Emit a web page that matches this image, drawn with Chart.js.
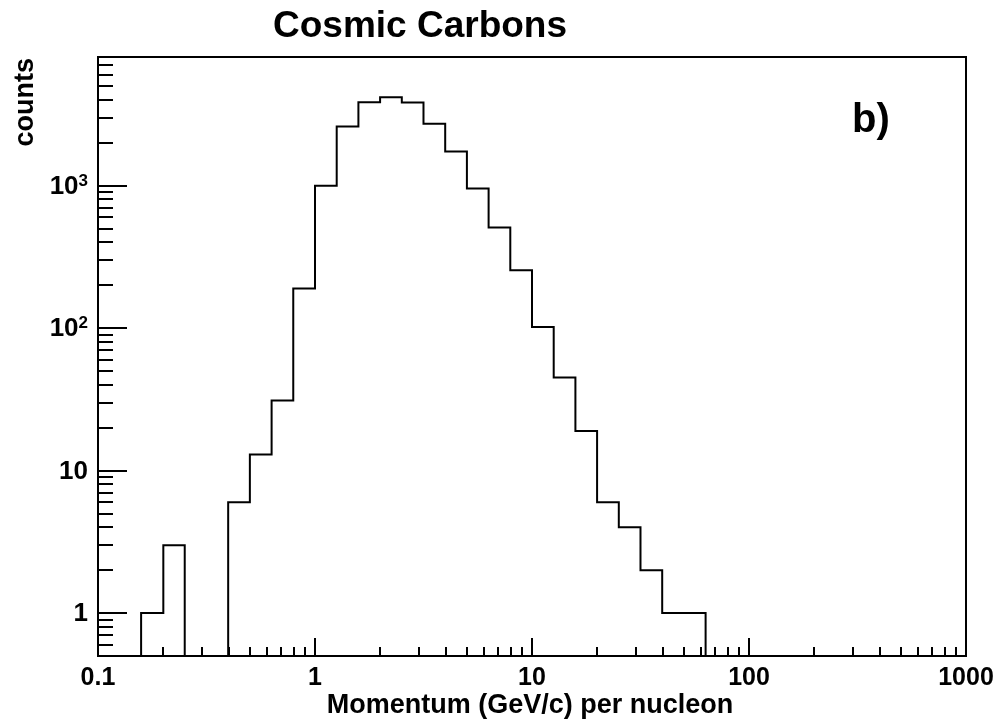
<!DOCTYPE html>
<html>
<head>
<meta charset="utf-8">
<title>Cosmic Carbons</title>
<script src="https://cdn.jsdelivr.net/npm/chart.js@4.4.1/dist/chart.umd.min.js"></script>
<style>
    body { margin: 0; background: #fff; }
    canvas { display: block; }
</style>
</head>
<body>
<canvas id="histo" width="1001" height="723"></canvas>
<script>
// ヒストグラムのデータここから
// ビンの境界 (0.1 dex 幅, GeV/c per nucleon)
const binEdges = [
    0.158, 0.2, 0.251, 0.316, 0.398, 0.501, 0.631, 0.794, 1, 1.259,
    1.585, 1.995, 2.512, 3.162, 3.981, 5.012, 6.31, 7.943, 10, 12.59,
    15.85, 19.95, 25.12, 31.62, 39.81, 50.12, 63.1,
];
// 各ビンのカウント
const binCounts = [
    1, 3, 0, 0, 6, 13, 31, 190, 1000, 2600,
    3850, 4180, 3840, 2720, 1740, 955, 508, 255, 102, 45,
    19, 6, 4, 2, 1, 1,
];
const xTicks = [0.1, 1, 10, 100, 1000];
const xTickLabels = ["0.1", "1", "10", "100", "1000"];
const yTicks = [1, 10, 100, 1000];
// [仮数, 指数] 指数が空なら普通の表記
const yTickLabels = [["1", ""], ["10", ""], ["10", "2"], ["10", "3"]];
const xMin = 0.1;
const xMax = 1000;
const yMin = 0.5;
const yMax = 8000;
// ヒストグラムのデータここまで

const fontFamily = "'Liberation Sans', Arial, Helvetica, sans-serif";

// 階段状の点列を作る (空のビンは枠の下端に落とす)
function makeStepPoints() {
    let points = [{ x: binEdges[0], y: yMin }];
    for (let i = 0; i < binCounts.length; i++) {
        let c = binCounts[i] > 0 ? binCounts[i] : yMin;
        points.push({ x: binEdges[i], y: c });
    }
    points.push({ x: binEdges[binEdges.length - 1], y: yMin });
    return points;
}

// 枠・内向きの目盛り・文字を描くプラグイン
const rootStyle = {
    id: "rootStyle",
    afterDatasetsDraw(chart) {
        const ctx = chart.ctx;
        const area = chart.chartArea;
        const xs = chart.scales.x;
        const ys = chart.scales.y;
        ctx.save();
        ctx.strokeStyle = "#000";
        ctx.lineWidth = 2;

        // x軸の目盛り
        ctx.beginPath();
        for (let d = -1; d <= 3; d++) {
            for (let k = 1; k <= 9; k++) {
                let v = k * Math.pow(10, d);
                if (v < xMin - 1e-9 || v > xMax + 1e-9) continue;
                let px = Math.round(xs.getPixelForValue(v));
                let len = k === 1 ? 18 : 9;
                ctx.moveTo(px, area.bottom);
                ctx.lineTo(px, area.bottom - len);
            }
        }
        // y軸の目盛り
        for (let d = -1; d <= 3; d++) {
            for (let k = 1; k <= 9; k++) {
                let v = k * Math.pow(10, d);
                if (v < yMin - 1e-9 || v > yMax + 1e-9) continue;
                let py = Math.round(ys.getPixelForValue(v));
                let len = k === 1 ? 29 : 15;
                ctx.moveTo(area.left, py);
                ctx.lineTo(area.left + len, py);
            }
        }
        ctx.stroke();

        // 枠
        ctx.strokeRect(area.left, area.top, area.right - area.left, area.bottom - area.top);

        ctx.fillStyle = "#000";

        // y軸のラベル (指数は上付き)
        let labelRight = area.left - 10;
        for (let i = 0; i < yTicks.length; i++) {
            let py = ys.getPixelForValue(yTicks[i]);
            let base = yTickLabels[i][0];
            let expo = yTickLabels[i][1];
            let baseRight = labelRight;
            if (expo !== "") {
                ctx.font = "bold 17px " + fontFamily;
                ctx.textAlign = "right";
                ctx.textBaseline = "alphabetic";
                let ew = ctx.measureText(expo).width;
                ctx.fillText(expo, labelRight, py);
                baseRight = labelRight - ew;
            }
            ctx.font = "bold 26px " + fontFamily;
            ctx.textAlign = "right";
            ctx.textBaseline = "middle";
            ctx.fillText(base, baseRight, py + 1);
        }

        // 文字
        ctx.textBaseline = "alphabetic";
        ctx.font = "bold 37px " + fontFamily;
        ctx.textAlign = "left";
        ctx.fillText("Cosmic Carbons", 273, 37);

        ctx.font = "bold 27px " + fontFamily;
        ctx.textAlign = "center";
        ctx.fillText("Momentum (GeV/c) per nucleon", 530, 713);

        ctx.font = "bold 40px " + fontFamily;
        ctx.textAlign = "left";
        ctx.fillText("b)", 852, 132);

        ctx.save();
        ctx.translate(33, 58);
        ctx.rotate(-Math.PI / 2);
        ctx.font = "bold 27px " + fontFamily;
        ctx.textAlign = "right";
        ctx.fillText("counts", 0, 0);
        ctx.restore();

        ctx.restore();
    },
};

const histoCanvas = document.querySelector("#histo");

let histoChart = new Chart(histoCanvas, {
    type: "line",
    data: {
        datasets: [
            {
                label: "Cosmic Carbons",
                data: makeStepPoints(),
                stepped: true,
                borderColor: "#000",
                borderWidth: 2,
                pointRadius: 0,
                fill: false,
            },
        ],
    },
    options: {
        responsive: false,
        animation: false,
        devicePixelRatio: 1,
        layout: {
            padding: { top: 57, right: 35, bottom: 0, left: 0 },
        },
        plugins: {
            legend: { display: false },
            tooltip: { enabled: false },
        },
        scales: {
            x: {
                type: "logarithmic",
                min: xMin,
                max: xMax,
                grid: { display: false, drawTicks: false },
                border: { display: false },
                afterBuildTicks: function (scale) {
                    scale.ticks = xTicks.map((v) => ({ value: v }));
                },
                afterFit: function (scale) {
                    scale.height = 67;
                },
                ticks: {
                    color: "#000",
                    padding: 7,
                    maxRotation: 0,
                    autoSkip: false,
                    font: { family: fontFamily, size: 25, weight: "bold" },
                    callback: function (value) {
                        let i = xTicks.indexOf(value);
                        return i >= 0 ? xTickLabels[i] : "";
                    },
                },
            },
            y: {
                type: "logarithmic",
                min: yMin,
                max: yMax,
                grid: { display: false, drawTicks: false },
                border: { display: false },
                afterBuildTicks: function (scale) {
                    scale.ticks = yTicks.map((v) => ({ value: v }));
                },
                afterFit: function (scale) {
                    scale.width = 98;
                },
                ticks: { display: false },
            },
        },
    },
    plugins: [rootStyle],
});
</script>
</body>
</html>
